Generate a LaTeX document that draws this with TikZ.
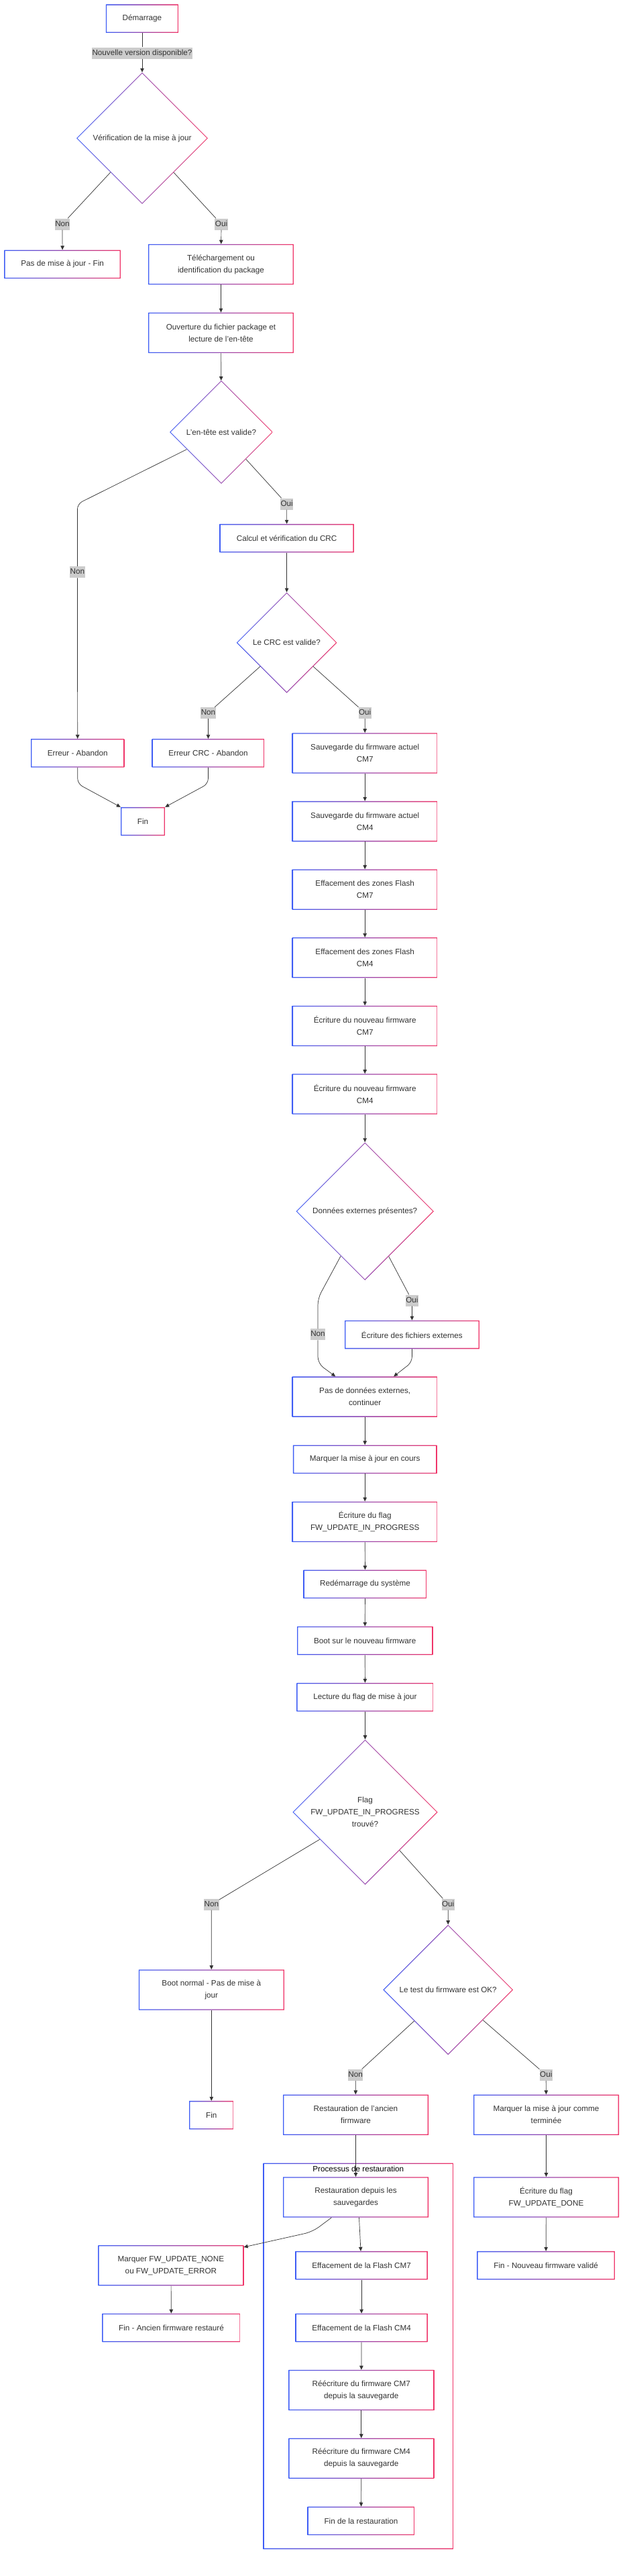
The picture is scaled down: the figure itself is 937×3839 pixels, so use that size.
\documentclass[tikz,border=0pt]{standalone}
\usepackage{fontspec}
\setmainfont{Liberation Sans}
\usepackage{tikz}
\usetikzlibrary{arrows.meta, shapes.geometric}
\definecolor{fwblue}{HTML}{3D5CF5}
\definecolor{fwpink}{HTML}{F03468}
\definecolor{fwtext}{HTML}{333333}
\definecolor{fwline}{HTML}{333333}
\definecolor{fwlbl}{HTML}{CCCCCC}

\tikzset{
  fwtxt/.style={font=\fontsize{11.7}{18}\selectfont, text=fwtext, align=center},
  procbox/.style={fwtxt, shape=rectangle, fill=white, inner sep=0pt, minimum height=42.5,
    path picture={\shade[left color=fwblue, right color=fwpink, even odd rule]
      (path picture bounding box.south west) rectangle (path picture bounding box.north east)
      ([shift={(1.3pt,1.3pt)}]path picture bounding box.south west) rectangle ([shift={(-1.3pt,-1.3pt)}]path picture bounding box.north east);}},
  procwide/.style={procbox, minimum width=217, minimum height=60.3},
  choice/.style={fwtxt, shape=diamond, aspect=1, fill=white, inner sep=0pt,
    path picture={\shade[left color=fwblue, right color=fwpink, even odd rule]
      (path picture bounding box.north) -- (path picture bounding box.east) -- (path picture bounding box.south) -- (path picture bounding box.west) -- cycle
      ([yshift=-1.4pt]path picture bounding box.north) -- ([xshift=-1.4pt]path picture bounding box.east) -- ([yshift=1.4pt]path picture bounding box.south) -- ([xshift=1.4pt]path picture bounding box.west) -- cycle;}},
  edgelbl/.style={fwtxt, fill=fwlbl, inner xsep=0.5pt, inner ysep=2.5pt, text height=9pt, text depth=3pt},
  flow/.style={draw=fwline, line width=0.7pt, -{Triangle[length=6pt, width=5.5pt]}},
}

\begin{document}
\begin{tikzpicture}[x=1pt, y=-1pt]

    \fill[white] (0,0) rectangle (937,3839);

    % mise a jour
    \node(start)[procbox, minimum width=108.5] at (212,27.7) {Démarrage};
    \node(lbl0)[edgelbl] at (212,79) {Nouvelle version disponible?};
    \node(chk)[choice, minimum size=196] at (212,206) {Vérification de la mise à jour};
    \node(chknon)[edgelbl] at (93,334) {Non};
    \node(chkoui)[edgelbl] at (330,334) {Oui};
    \node(nomaj)[procbox, minimum width=173.6] at (93.2,393.8) {Pas de mise à jour - Fin};
    \node(dl)[procwide] at (329.5,394) {Téléchargement ou\\identification du package};
    \node(ouv)[procwide] at (329.5,496) {Ouverture du fichier package et\\lecture de l'en-tête};

    \node(hdr)[choice, minimum size=154] at (330,644) {L'en-tête est valide?};
    \coordinate(hdrbend) at (115.4,751);
    \node(hdrnon)[edgelbl] at (115.4,852.6) {Non};
    \node(hdroui)[edgelbl] at (427.6,751) {Oui};
    \node(crc)[procbox, minimum width=200.3] at (427.6,802.2) {Calcul et vérification du CRC};
    \node(crcok)[choice, minimum size=150] at (427.6,957.8) {Le CRC est valide?};
    \node(crcnon)[edgelbl] at (310.5,1062.5) {Non};
    \node(crcoui)[edgelbl] at (544.2,1062.5) {Oui};
    \node(err)[procbox, minimum width=139.3] at (115.7,1122.4) {Erreur - Abandon};
    \node(errcrc)[procbox, minimum width=168] at (310.5,1122.4) {Erreur CRC - Abandon};
    \coordinate(errbend) at (115.7,1168);
    \coordinate(errcrcbend) at (310.5,1168);
    \node(fin)[procbox, minimum width=66] at (213,1224.2) {Fin};

    % sauvegarde et ecriture
    \node(sav7)[procwide] at (544.2,1122.5) {Sauvegarde du firmware actuel\\CM7};
    \node(sav4)[procwide] at (544.2,1224.1) {Sauvegarde du firmware actuel\\CM4};
    \node(eff7)[procwide] at (544.2,1325.7) {Effacement des zones Flash\\CM7};
    \node(eff4)[procwide] at (544.2,1427.3) {Effacement des zones Flash\\CM4};
    \node(ecr7)[procwide] at (544.2,1528.9) {Écriture du nouveau firmware\\CM7};
    \node(ecr4)[procwide] at (544.2,1630.5) {Écriture du nouveau firmware\\CM4};

    \node(ext)[choice, minimum size=205.5] at (544.2,1805.2) {Données externes présentes?};
    \coordinate(extbend1) at (474,1935);
    \coordinate(extbend2) at (474,2032);
    \node(extnon)[edgelbl] at (474,1988.7) {Non};
    \node(extoui)[edgelbl] at (614.4,1938) {Oui};
    \node(extw)[procbox, minimum width=200.8] at (614.4,1989) {Écriture des fichiers externes};
    \coordinate(extbend3) at (614.4,2030);
    \node(noext)[procwide] at (544.2,2081.6) {Pas de données externes,\\continuer};
    \node(mark)[procbox, minimum width=214.5] at (544.2,2174.8) {Marquer la mise à jour en cours};
    \node(flagip)[procwide] at (544.2,2267.9) {Écriture du flag\\FW\_UPDATE\_IN\_PROGRESS};
    \node(reboot)[procbox, minimum width=184] at (544.5,2360.8) {Redémarrage du système};
    \node(boot)[procbox, minimum width=202.4] at (544.2,2445.1) {Boot sur le nouveau firmware};
    \node(rdflag)[procbox, minimum width=204.4] at (544.5,2529.3) {Lecture du flag de mise à jour};

    % apres redemarrage
    \node(found)[choice, minimum size=216.4] at (544.5,2700.6) {Flag\\FW\_UPDATE\_IN\_PROGRESS\\trouvé?};
    \node(foundnon)[edgelbl] at (315.3,2838) {Non};
    \node(foundoui)[edgelbl] at (668.2,2838) {Oui};
    \node(bootn)[procwide] at (315.3,2965.4) {Boot normal - Pas de mise à\\jour};
    \node(fin2)[procbox, minimum width=66.5] at (315.3,3152.2) {Fin};
    \node(test)[choice, minimum size=194] at (668.2,2965.4) {Le test du firmware est OK?};
    \node(testnon)[edgelbl] at (530.2,3092.2) {Non};
    \node(testoui)[edgelbl] at (814.3,3092.2) {Oui};
    \node(rold)[procwide] at (530.5,3151.7) {Restauration de l'ancien\\firmware};
    \node(done)[procwide] at (814.5,3151.7) {Marquer la mise à jour comme\\terminée};

    % processus de restauration
    \node(grp)[procbox, minimum width=283.9, minimum height=575.5] at (534.55,3511.25) {};
    \node(grpttl)[fwtxt, text=black, inner sep=0pt] at (534.3,3232) {Processus de restauration};
    \node(rbak)[procwide] at (530.5,3274.4) {Restauration depuis les\\sauvegardes};
    \coordinate(rbakbend) at (466,3326);
    \node(ceff7)[procbox, minimum width=197.2] at (539.1,3376.2) {Effacement de la Flash CM7};
    \node(ceff4)[procbox, minimum width=197.2] at (539.1,3469.1) {Effacement de la Flash CM4};
    \node(rew7)[procwide] at (538.8,3562) {Réécriture du firmware CM7\\depuis la sauvegarde};
    \node(rew4)[procwide] at (538.8,3663.8) {Réécriture du firmware CM4\\depuis la sauvegarde};
    \node(finrest)[procbox, minimum width=160] at (538.5,3756.9) {Fin de la restauration};

    \node(fwnone)[procwide] at (254.9,3376.2) {Marquer FW\_UPDATE\_NONE\\ou FW\_UPDATE\_ERROR};
    \node(finold)[procbox, minimum width=206.2] at (255.5,3469.1) {Fin - Ancien firmware restauré};
    \node(flagdone)[procwide] at (814.5,3274.4) {Écriture du flag\\FW\_UPDATE\_DONE};
    \node(finnew)[procbox, minimum width=205.6] at (814.1,3376.2) {Fin - Nouveau firmware validé};

    % liens
    \draw[flow] (start) -- (lbl0) -- (chk);
    \draw[flow] (chk) -- (chknon) -- (nomaj);
    \draw[flow] (chk) -- (chkoui) -- (dl);
    \draw[flow, rounded corners=8pt] (hdr) -- (hdrbend) -- (hdrnon) -- (err);
    \draw[flow] (hdr) -- (hdroui) -- (crc);
    \draw[flow] (crcok) -- (crcnon) -- (errcrc);
    \draw[flow] (crcok) -- (crcoui) -- (sav7);
    \draw[flow, rounded corners=8pt] (err) -- (errbend) -- (fin.north west);
    \draw[flow, rounded corners=8pt] (errcrc) -- (errcrcbend) -- (fin.north east);

    \foreach \x/\y in {dl/ouv, ouv/hdr, crc/crcok, sav7/sav4, sav4/eff7, eff7/eff4, eff4/ecr7, ecr7/ecr4, ecr4/ext}
    {
        \draw[flow] (\x) -- (\y);
    }

    \draw[flow, rounded corners=10pt] (ext) -- (extbend1) -- (extnon) -- (extbend2) -- ([xshift=-44pt]noext.north);
    \draw[flow] (ext) -- (extoui) -- (extw);
    \draw[flow, rounded corners=8pt] (extw) -- (extbend3) -- ([xshift=43pt]noext.north);

    \foreach \x/\y in {noext/mark, mark/flagip, flagip/reboot, reboot/boot, boot/rdflag, rdflag/found}
    {
        \draw[flow] (\x) -- (\y);
    }

    \draw[flow] (found) -- (foundnon) -- (bootn);
    \draw[flow] (found) -- (foundoui) -- (test);
    \draw[flow] (bootn) -- (fin2);
    \draw[flow] (test) -- (testnon) -- (rold);
    \draw[flow] (test) -- (testoui) -- (done);
    \draw[flow] (rold) -- (rbak);
    \draw[flow, rounded corners=12pt] ([xshift=-36pt]rbak.south) -- (rbakbend) -- ([yshift=-3pt]fwnone.north east);
    \draw[flow] ([xshift=5pt]rbak.south) -- (ceff7);

    \foreach \x/\y in {ceff7/ceff4, ceff4/rew7, rew7/rew4, rew4/finrest, fwnone/finold, done/flagdone, flagdone/finnew}
    {
        \draw[flow] (\x) -- (\y);
    }

\end{tikzpicture}
\end{document}
